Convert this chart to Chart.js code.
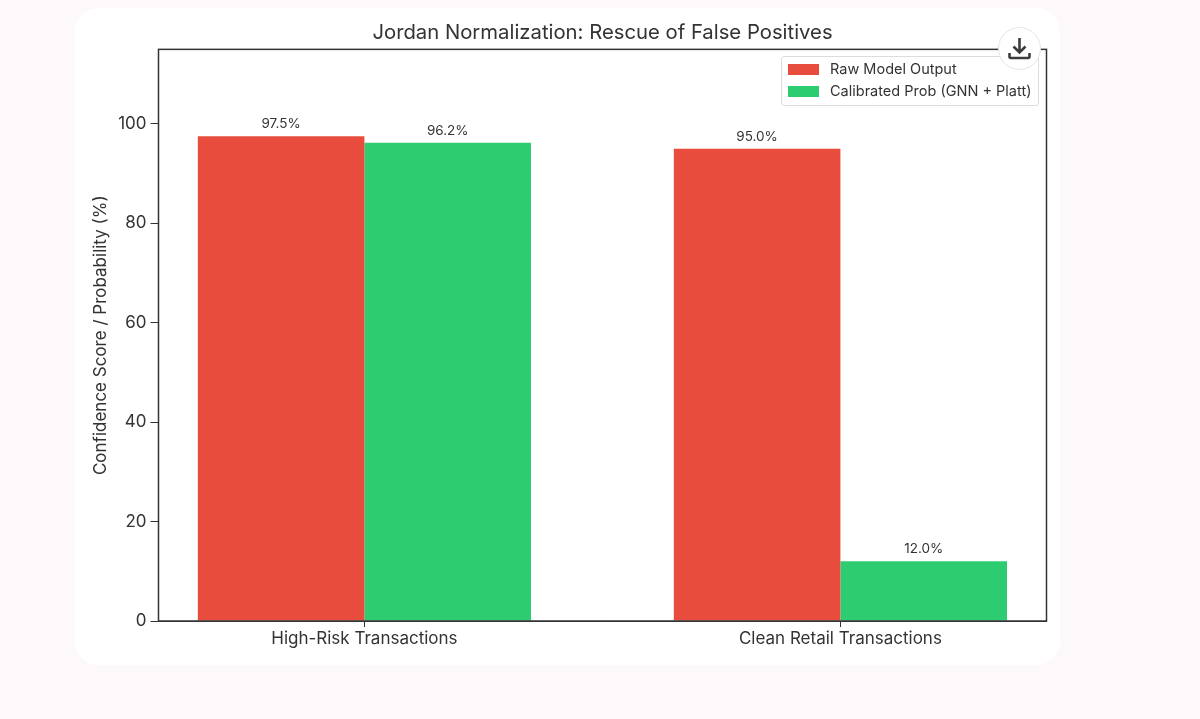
<!DOCTYPE html>
<html>
<head>
<meta charset="utf-8">
<title>Jordan Normalization</title>
<script src="https://cdn.jsdelivr.net/npm/chart.js@4"></script>
<style>
    html, body { margin: 0; padding: 0; background: #fdf9fa; overflow: hidden; }
    #page { position: relative; width: 1200px; height: 719px; font-family: Inter, sans-serif; color: #333; }
    #card { position: absolute; left: 75px; top: 8px; width: 985px; height: 657px; background: #fff; border-radius: 24px; }
    canvas { position: absolute; left: 0; top: 0; }
    #legend { position: absolute; left: 781px; top: 56px; width: 256px; height: 48px; background: #fff; border: 1px solid #dcdcdc; border-radius: 3px; font-size: 14.5px; }
    #legend div { position: absolute; left: 6px; white-space: nowrap; }
    #legend span { display: inline-block; width: 31px; height: 11px; margin-right: 11px; vertical-align: -1px; }
    #download { position: absolute; left: 998px; top: 27px; width: 41px; height: 41px; background: #fff; border: 1px solid #e4e4e4; border-radius: 50%; }
    #download svg { position: absolute; left: 8px; top: 8px; }
</style>
</head>
<body>
<div id="page">
    <div id="card"></div>
    <canvas id="chart" width="1200" height="719"></canvas>
    <div id="legend"></div>
    <div id="download">
        <svg width="25" height="25" viewBox="0 0 25 25" fill="none" stroke="#3c3c3c" stroke-width="2.6">
            <path d="M12.5 2v14M6.5 10.5l6 6 6-6"/>
            <path d="M2.5 17v3.5a1.5 1.5 0 0 0 1.5 1.5h17a1.5 1.5 0 0 0 1.5-1.5V17"/>
        </svg>
    </div>
</div>
<script>
const categories = ['High-Risk Transactions', 'Clean Retail Transactions'];
const rawOutput = [97.5, 95.0];
const calibrated = [96.2, 12.0];
const seriesNames = ['Raw Model Output', 'Calibrated Prob (GNN + Platt)'];
const seriesColors = ['#e74c3c', '#2ecc71'];
const yTicks = [0, 20, 40, 60, 80, 100];

const FONT = 'Inter, sans-serif';
const TEXT = '#333333';

// bars sit on a numeric x axis so the side margins can be fractional, like the original
function points(values) {
    return values.map((v, i) => ({ x: i, y: v }));
}

// frame round the plot, top and right sides are not drawn by the axes
const framePlugin = {
    id: 'frame',
    afterDraw(chart) {
        const a = chart.chartArea;
        const ctx = chart.ctx;
        ctx.save();
        ctx.strokeStyle = TEXT;
        ctx.lineWidth = 1.5;
        ctx.strokeRect(a.left, a.top, a.right - a.left, a.bottom - a.top);
        ctx.restore();
    }
};

// value label above each bar
const barLabels = {
    id: 'barLabels',
    afterDatasetsDraw(chart) {
        const ctx = chart.ctx;
        ctx.save();
        ctx.font = '13.5px ' + FONT;
        ctx.fillStyle = TEXT;
        ctx.textAlign = 'center';
        ctx.textBaseline = 'bottom';
        chart.data.datasets.forEach((ds, i) => {
            chart.getDatasetMeta(i).data.forEach((bar, j) => {
                ctx.fillText(ds.data[j].y.toFixed(1) + '%', bar.x, bar.y - 5.5);
            });
        });
        ctx.restore();
    }
};

new Chart(document.getElementById('chart'), {
    type: 'bar',
    data: {
        datasets: [
            { label: seriesNames[0], data: points(rawOutput), backgroundColor: seriesColors[0] },
            { label: seriesNames[1], data: points(calibrated), backgroundColor: seriesColors[1] }
        ]
    },
    plugins: [framePlugin, barLabels],
    options: {
        responsive: false,
        animation: false,
        categoryPercentage: 0.7,
        barPercentage: 1,
        layout: { padding: { left: 88, right: 153.5, top: 0, bottom: 0 } },
        plugins: {
            legend: { display: false },
            tooltip: { enabled: false },
            title: {
                display: true,
                text: 'Jordan Normalization: Rescue of False Positives',
                fullSize: false,
                color: TEXT,
                font: { family: FONT, size: 20.3, weight: 'normal' },
                padding: { top: 21, bottom: 4 }
            }
        },
        scales: {
            x: {
                type: 'linear',
                offset: false,
                min: -0.4326,
                max: 1.433,
                afterFit(scale) { scale.height = 98; },
                afterBuildTicks(scale) { scale.ticks = categories.map((c, i) => ({ value: i })); },
                ticks: {
                    color: TEXT,
                    font: { family: FONT, size: 17 },
                    padding: 2,
                    maxRotation: 0,
                    callback: value => categories[value]
                },
                grid: { offset: false, drawOnChartArea: false, tickLength: 6, tickColor: TEXT },
                border: { color: TEXT, width: 1 }
            },
            y: {
                min: 0,
                max: 115,
                afterFit(scale) { scale.width = 70.5; },
                afterBuildTicks(scale) { scale.ticks = yTicks.map(v => ({ value: v })); },
                ticks: {
                    color: TEXT,
                    font: { family: FONT, size: 17 },
                    padding: 4
                },
                grid: { drawOnChartArea: false, tickLength: 8, tickColor: TEXT },
                border: { color: TEXT, width: 1 },
                title: {
                    display: true,
                    text: 'Confidence Score / Probability (%)',
                    color: TEXT,
                    font: { family: FONT, size: 17 },
                    padding: { top: 3, bottom: 0 }
                }
            }
        }
    }
});

// legend lives in the plot corner, the built in one can not go there
const legendBox = document.getElementById('legend');
seriesNames.forEach((name, i) => {
    const row = document.createElement('div');
    row.style.top = (i === 0 ? 3 : 25) + 'px';
    const swatch = document.createElement('span');
    swatch.style.background = seriesColors[i];
    row.appendChild(swatch);
    row.appendChild(document.createTextNode(name));
    legendBox.appendChild(row);
});
</script>
</body>
</html>
